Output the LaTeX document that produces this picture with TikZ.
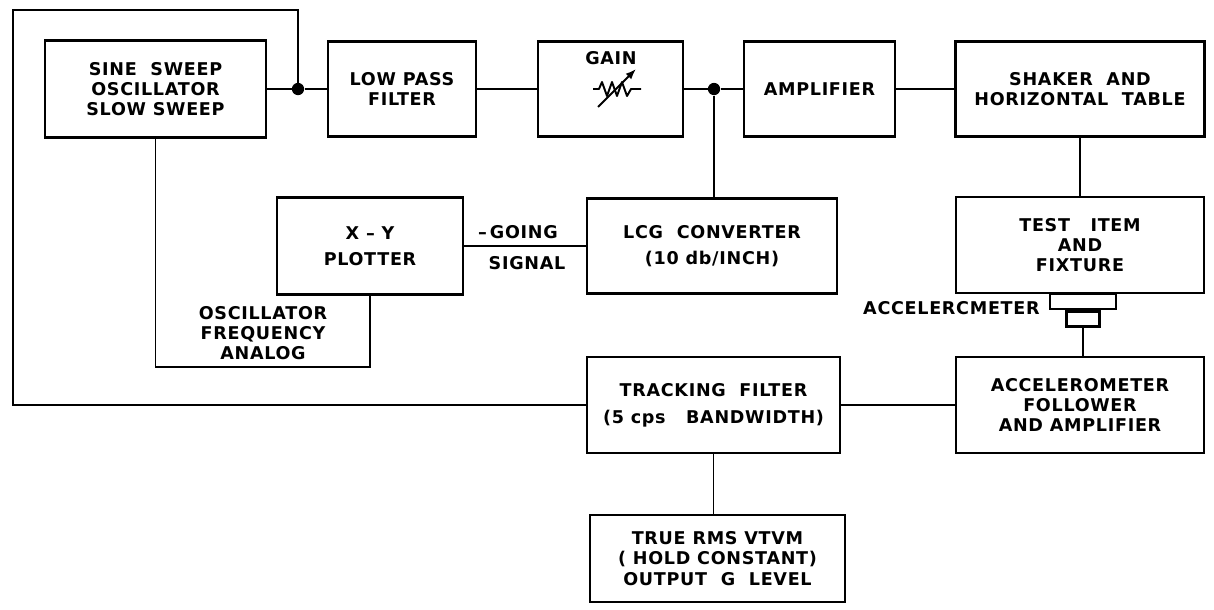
\documentclass[tikz,border=0pt]{standalone}
\usepackage{fontspec}
\setmainfont{DejaVu Sans}[LetterSpace=4]
\usepackage{tikz}
\usetikzlibrary{arrows.meta, positioning}

\begin{document}
\begin{tikzpicture}[x=0.02cm, y=-0.02cm,
    blk/.style={draw, line width=1.4pt, align=center, inner sep=0pt, font=\bfseries\fontsize{10}{11.5}\selectfont},
    lbl/.style={align=center, inner sep=0pt, font=\bfseries\fontsize{10}{11.5}\selectfont},
    wire/.style={line width=1.1pt},
    junc/.style={circle, fill, inner sep=0pt, minimum size=7pt}]
    \useasboundingbox (0,0) rectangle (1214,609);

    % top row
    \node[blk, minimum width=4.42cm, minimum height=1.94cm] (sine) at (155.5,89) {SINE\ \ SWEEP\\OSCILLATOR\\SLOW SWEEP};
    \node[blk, minimum width=2.96cm, minimum height=1.9cm] (lpf) at (402,89) {LOW PASS\\FILTER};
    \node[blk, minimum width=2.9cm, minimum height=1.9cm] (gain) at (610.5,89) {};
    \node[lbl] (gainlbl) at (611,58) {GAIN};
    \node[blk, minimum width=3.02cm, minimum height=1.9cm] (amp) at (819.5,89) {AMPLIFIER};
    \node[blk, minimum width=4.98cm, minimum height=1.9cm] (shaker) at (1080,89) {SHAKER\ \ AND\\HORIZONTAL\ \ TABLE};

    % middle row
    \node[blk, minimum width=3.72cm, minimum height=1.94cm] (plotter) at (370,246) {X -- Y\\[3pt]PLOTTER};
    \node[blk, minimum width=5cm, minimum height=1.9cm] (logc) at (712,246) {LCG\ \ CONVERTER\\[3pt](10 db/INCH)};
    \node[blk, minimum width=4.96cm, minimum height=1.92cm] (test) at (1080,245) {TEST\ \ \ ITEM\\AND\\FIXTURE};
    \node[draw, line width=1.4pt, inner sep=0pt, minimum width=1.32cm, minimum height=0.3cm, anchor=north] (accmount) at (1083,293) {};
    \node[draw, line width=1.4pt, inner sep=0pt, minimum width=0.66cm, minimum height=0.3cm, anchor=north] (accsens) at (accmount.south) {};
    \node[lbl, anchor=east] (acclbl) at (1040,308) {ACCELERCMETER};

    % lower rows
    \node[blk, minimum width=5.06cm, minimum height=1.92cm] (track) at (713.5,405) {TRACKING\ \ FILTER\\[4pt](5 cps\ \ \ BANDWIDTH)};
    \node[blk, minimum width=4.96cm, minimum height=1.92cm] (follow) at (1080,405) {ACCELEROMETER\\FOLLOWER\\AND AMPLIFIER};
    \node[blk, minimum width=5.1cm, minimum height=1.74cm] (rms) at (717.5,558.5) {TRUE RMS VTVM\\( HOLD CONSTANT)\\OUTPUT\ \ G\ \ LEVEL};

    % labels
    \node[lbl] (going) at (518,232) {--\,GOING};
    \node[lbl] (signal) at (527,263) {SIGNAL};
    \node[lbl] (oscfreq) at (263,333) {OSCILLATOR\\FREQUENCY\\ANALOG};

    % junctions and corners
    \node[junc] (j1) at (298,89) {};
    \node[junc] (j2) at (714,89) {};
    \coordinate (loopTop) at (13,10);
    \coordinate (loopBot) at (13,405);
    \coordinate (fbLine) at (0,367);

    % connections
    \draw[wire] (sine.east) -- (j1) -- (lpf.west);
    \draw[wire] (lpf.east) -- (gain.west);
    \draw[wire] (gain.east) -- (j2) -- (amp.west);
    \draw[wire] (amp.east) -- (shaker.west);
    \draw[wire] (j2) -- (j2 |- logc.north);
    \draw[wire] (shaker.south) -- (test.north);
    \draw[wire] (plotter.east) -- (logc.west);
    \draw[wire] (j1) -- (j1 |- loopTop) -- (loopTop) -- (loopBot) -- (track.west);
    \draw[wire] (sine.south) -- (sine.south |- fbLine) -| (plotter.south);
    \draw[wire] (accsens.south) -- (accsens.south |- follow.north);
    \draw[wire] (track.east) -- (follow.west);
    \draw[wire] (track.south) -- (track.south |- rms.north);

    % variable gain symbol
    \draw[wire, line join=round] (593,89) -- (599,89) -- (602,82) -- (607,96) -- (612,82) -- (617,96) -- (622,82) -- (627,96) -- (631,89) -- (641,89);
    \draw[wire, -{Latex[length=6pt]}] (598,107) -- (636,69);
\end{tikzpicture}
\end{document}
